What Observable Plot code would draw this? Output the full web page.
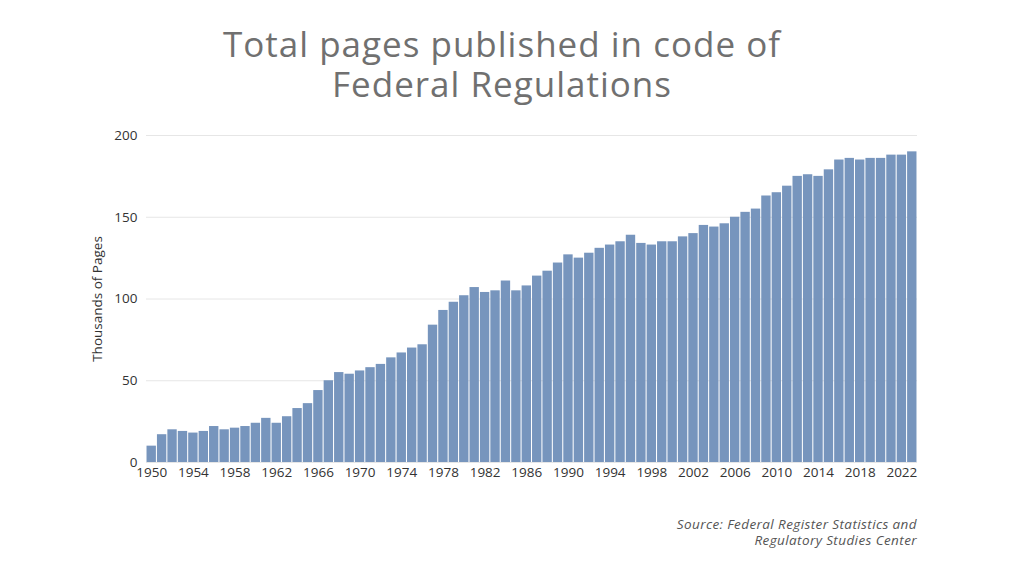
<!DOCTYPE html>
<html>
<head>
<meta charset="utf-8">
<script src="https://cdn.jsdelivr.net/npm/d3@7"></script>
<script src="https://cdn.jsdelivr.net/npm/@observablehq/plot@0.6"></script>
<style>
  html, body { margin: 0; padding: 0; background: #fff; }
  body { width: 1024px; height: 576px; position: relative; overflow: hidden; font-family: "Open Sans", sans-serif; }
  .title { position: absolute; left: 0; width: 1004px; text-align: center; font-size: 35px; height: 40px; line-height: 40px; letter-spacing: 1px; color: #707070; font-weight: 500; white-space: nowrap; }
  #t1 { top: 24px; }
  #t2 { top: 64px; }
  #chart { position: absolute; left: 0; top: 110px; }
  #source { position: absolute; right: 107px; top: 516px; text-align: right; font-style: italic; font-size: 13.5px; line-height: 16px; letter-spacing: 0.4px; color: #555; }
</style>
</head>
<body>
<div class="title" id="t1">Total pages published in code of</div>
<div class="title" id="t2">Federal Regulations</div>
<div id="chart"></div>
<div id="source">Source: Federal Register Statistics and<br>Regulatory Studies Center</div>
<script>
const years = d3.range(1950, 2024);
const pages = [10, 17, 20, 19, 18, 19, 22, 20, 21, 22,
               24, 27, 24, 28, 33, 36, 44, 50, 55, 54,
               56, 58, 60, 64, 67, 70, 72, 84, 93, 98,
               102, 107, 104, 105, 111, 105, 108, 114, 117, 122,
               127, 125, 128, 131, 133, 135, 139, 134, 133, 135,
               135, 138, 140, 145, 144, 146, 150, 153, 155, 163,
               165, 169, 175, 176, 175, 179, 185, 186, 185, 186,
               186, 188, 188, 190];
const xTicks = d3.range(1950, 2024, 4);
const yTicks = [0, 50, 100, 150, 200];

const data = years.map((y, i) => ({year: y, value: pages[i]}));

const chart = Plot.plot({
  width: 1024,
  height: 390,
  marginTop: 25,
  marginBottom: 38,
  marginLeft: 146,
  marginRight: 107,
  style: {fontFamily: "'Open Sans', sans-serif", fontSize: "13.5px", color: "#333", background: "transparent"},
  x: {type: "band", domain: years, paddingInner: 0.1, paddingOuter: 0.05},
  y: {domain: [0, 200]},
  marks: [
    Plot.gridY(yTicks, {stroke: "#e6e6e6", strokeOpacity: 1}),
    Plot.barY(data, {x: "year", y: "value", fill: "#7795bd"}),
    Plot.axisX({ticks: xTicks, tickSize: 0, tickPadding: 5, tickFormat: d => String(d), label: null, fontSize: 13.5}),
    Plot.axisY({ticks: yTicks, tickSize: 0, tickPadding: 9, label: "Thousands of Pages", labelAnchor: "center", labelArrow: "none", labelOffset: 54, fontSize: 13.5})
  ]
});
document.getElementById("chart").appendChild(chart);
</script>
</body>
</html>
